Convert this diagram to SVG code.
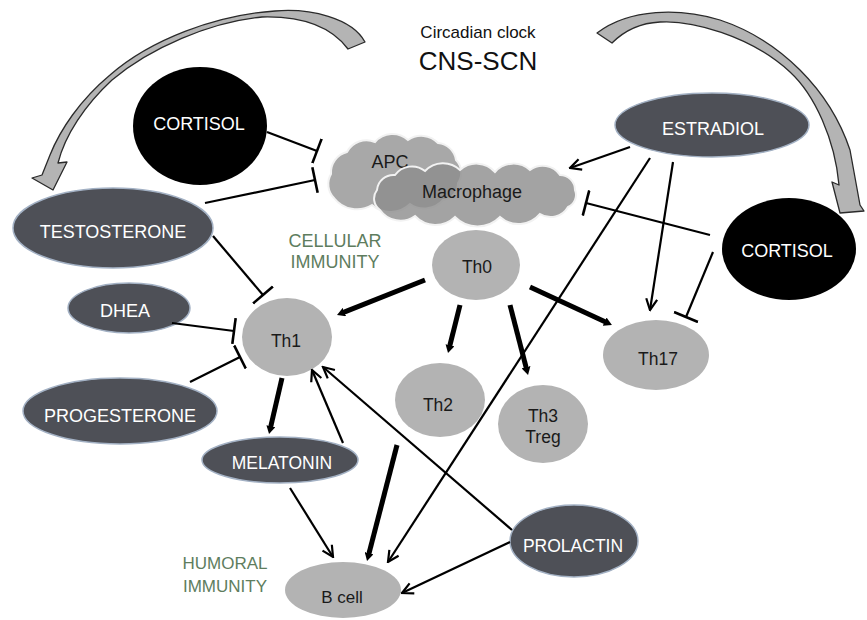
<svg xmlns="http://www.w3.org/2000/svg" width="867" height="620" viewBox="0 0 867 620">
<defs>
<style>
.hor{fill:#4e5057;stroke:#a3b1c4;stroke-width:1.5}
.cort{fill:#000}
.th{fill:#b3b3b3}
.cloud{stroke:#f2f2f2;stroke-width:2}
text{font-family:"Liberation Sans",Arial,sans-serif;text-anchor:middle}
.wt{fill:#fff;font-size:18px}
.bt{fill:#1a1a1a;font-size:17.5px}
.gt{fill:#5e7d5e;font-size:18px}
.thin{stroke:#000;stroke-width:2.2;fill:none}
.thick{stroke:#000;stroke-width:5;fill:none}
.big{fill:#b4b4b4;stroke:#2a2a2a;stroke-width:1.3;stroke-linejoin:round}
</style>
<marker id="av" viewBox="0 0 14 14" refX="12.5" refY="7" markerWidth="14" markerHeight="14" markerUnits="userSpaceOnUse" orient="auto"><path d="M1.5,1.5 L12.5,7 L1.5,12.5" fill="none" stroke="#000" stroke-width="2.2"/></marker>
<marker id="ak" viewBox="0 0 8 9" refX="1" refY="4.5" markerWidth="8" markerHeight="9" markerUnits="userSpaceOnUse" orient="auto"><path d="M0,0 L8,4.5 L0,9 Z" fill="#000"/></marker>
<marker id="tb" viewBox="0 0 4 26" refX="2" refY="13" markerWidth="4" markerHeight="26" markerUnits="userSpaceOnUse" orient="auto"><path d="M2,0 V26" stroke="#000" stroke-width="2.6"/></marker>
</defs>
<rect width="867" height="620" fill="#fff"/>

<g id="title">
<text x="478" y="38" style="font-size:17px;fill:#111">Circadian clock</text>
<text x="478" y="70" style="font-size:26px;fill:#111">CNS-SCN</text>
</g>

<g id="clock-arrows">
<path class="big" d="M348 49 L365 42 C352 18 310 8 275 11 C215 15 150 40 110 75 C80 100 60 130 50 155 L42 175 L32 178 L53 190 L67 162 L58 163 C65 135 85 105 112 80 C150 48 210 22 262 17 C300 16 330 25 348 49 Z"/>
<path class="big" d="M597 33 C630 8 680 8 720 20 C780 40 830 90 850 150 L860 205 L864 211 L840 213 L832 182 L839 185 C835 140 815 95 790 72 C750 35 690 20 660 22 C640 23 625 30 612 43 Z"/>
</g>

<g id="labels">
<text class="gt" x="335" y="247">CELLULAR</text>
<text class="gt" x="335" y="268">IMMUNITY</text>
<text class="gt" x="225" y="569" style="font-size:17px">HUMORAL</text>
<text class="gt" x="225" y="592" style="font-size:17px">IMMUNITY</text>
</g>

<g id="apc">
<path class="cloud" fill="#a8a8a8" d="M334 198 A20 20 0 0 1 331 174 A21 21 0 0 1 347 152 A22 22 0 0 1 375 142 A23 23 0 0 1 408 140 A23 23 0 0 1 438 143 A20 20 0 0 1 456 160 A18 18 0 0 1 458 183 A17 17 0 0 1 443 200 A25 25 0 0 1 410 204 A28 28 0 0 1 372 205 A29 29 0 0 1 334 198 Z"/>
<text class="bt" x="390" y="168" style="font-size:18px">APC</text>
</g>
<g id="macrophage">
<path class="cloud" fill="#8c8c8c" fill-opacity="0.8" d="M380 210 A14 14 0 0 1 377 190 A16.5 16.5 0 0 1 395 175 A21 21 0 0 1 425 171 A24.5 24.5 0 0 1 460 170 A24.5 24.5 0 0 1 495 172 A24.5 24.5 0 0 1 530 170 A21 21 0 0 1 560 175 A15 15 0 0 1 575 190 A13 13 0 0 1 568 207 A20 20 0 0 1 540 214 A28 28 0 0 1 500 217 A31.5 31.5 0 0 1 455 217 A28 28 0 0 1 415 216 A25 25 0 0 1 380 210 Z"/>
<text class="bt" x="472" y="198" style="font-size:18px">Macrophage</text>
</g>

<g id="cortisol-left"><ellipse class="cort" cx="200" cy="126" rx="67" ry="59"/><text class="wt" x="199" y="130">CORTISOL</text></g>
<g id="cortisol-right"><ellipse class="cort" cx="789" cy="249" rx="67" ry="51"/><text class="wt" x="787" y="257">CORTISOL</text></g>
<g id="estradiol"><ellipse class="hor" cx="712" cy="125" rx="97" ry="32"/><text class="wt" x="713" y="135">ESTRADIOL</text></g>
<g id="testosterone"><ellipse class="hor" cx="113" cy="228" rx="100" ry="40"/><text class="wt" x="113" y="238">TESTOSTERONE</text></g>
<g id="dhea"><ellipse class="hor" cx="129" cy="308" rx="61" ry="25"/><text class="wt" x="125" y="317">DHEA</text></g>
<g id="progesterone"><ellipse class="hor" cx="120" cy="411" rx="97" ry="33"/><text class="wt" x="120" y="422">PROGESTERONE</text></g>
<g id="melatonin"><ellipse class="hor" cx="280" cy="460" rx="78" ry="23"/><text class="wt" x="282" y="469" style="font-size:17.5px">MELATONIN</text></g>
<g id="prolactin"><ellipse class="hor" cx="574" cy="541" rx="64" ry="36"/><text class="wt" x="573" y="552" style="font-size:17.5px">PROLACTIN</text></g>

<g id="th0"><ellipse class="th" cx="476" cy="265" rx="44" ry="35"/><text class="bt" x="477" y="273">Th0</text></g>
<g id="th1"><ellipse class="th" cx="287" cy="337" rx="45" ry="39"/><text class="bt" x="286" y="347">Th1</text></g>
<g id="th2"><ellipse class="th" cx="440" cy="400" rx="45" ry="37"/><text class="bt" x="438" y="411">Th2</text></g>
<g id="th3"><ellipse class="th" cx="543" cy="424" rx="45" ry="39"/><text class="bt" x="543" y="422">Th3</text><text class="bt" x="543" y="443">Treg</text></g>
<g id="th17"><ellipse class="th" cx="656" cy="355" rx="53" ry="35"/><text class="bt" x="658" y="365">Th17</text></g>
<g id="bcell"><ellipse class="th" cx="343" cy="590" rx="58" ry="28"/><text class="bt" x="342" y="603" style="font-size:17px">B cell</text></g>

<g id="connectors">
<line class="thin" x1="267" y1="132" x2="317" y2="151" marker-end="url(#tb)"/>
<line class="thin" x1="205" y1="203" x2="315" y2="180" marker-end="url(#tb)"/>
<line class="thin" x1="213" y1="236" x2="263" y2="295" marker-end="url(#tb)"/>
<line class="thin" x1="172" y1="323" x2="234" y2="331" marker-end="url(#tb)"/>
<line class="thin" x1="190" y1="382" x2="240" y2="357" marker-end="url(#tb)"/>
<line class="thin" x1="710" y1="235" x2="586" y2="203" marker-end="url(#tb)"/>
<line class="thin" x1="713" y1="252" x2="686" y2="317" marker-end="url(#tb)"/>
<line class="thick" x1="425" y1="280" x2="343.5" y2="312.4" marker-end="url(#ak)"/>
<line class="thick" x1="460" y1="305" x2="449.7" y2="346.2" marker-end="url(#ak)"/>
<line class="thick" x1="510" y1="305" x2="526.3" y2="368.2" marker-end="url(#ak)"/>
<line class="thick" x1="530" y1="287" x2="605.6" y2="322.1" marker-end="url(#ak)"/>
<line class="thick" x1="282" y1="378" x2="270.6" y2="427.2" marker-end="url(#ak)"/>
<line class="thick" x1="397" y1="445" x2="368.8" y2="554.2" marker-end="url(#ak)"/>
<line class="thin" x1="343" y1="443" x2="312" y2="370" marker-end="url(#av)"/>
<line class="thin" x1="512" y1="530" x2="323" y2="367" marker-end="url(#av)"/>
<line class="thin" x1="650" y1="158" x2="388" y2="562" marker-end="url(#av)"/>
<line class="thin" x1="630" y1="147" x2="570" y2="168" marker-end="url(#av)"/>
<line class="thin" x1="673" y1="162" x2="650" y2="310" marker-end="url(#av)"/>
<line class="thin" x1="290" y1="488" x2="333" y2="557" marker-end="url(#av)"/>
<line class="thin" x1="510" y1="542" x2="402" y2="593" marker-end="url(#av)"/>
</g>
</svg>
